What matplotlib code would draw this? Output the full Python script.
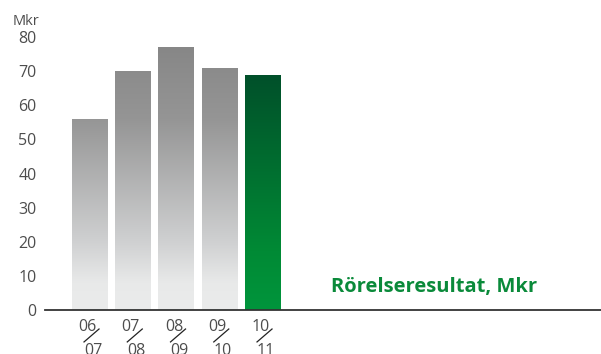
import numpy as np
import matplotlib
matplotlib.use("Agg")
import matplotlib.pyplot as plt
from matplotlib.colors import LinearSegmentedColormap

plt.rcParams['font.family'] = ['Open Sans', 'DejaVu Sans']

# data
periods_top = ['06', '07', '08', '09', '10']
periods_bottom = ['07', '08', '09', '10', '11']
values = [56, 70, 77, 71, 69]
yticks = [0, 10, 20, 30, 40, 50, 60, 70, 80]
label = 'Rörelseresultat, Mkr'
unit = 'Mkr'

gray_cmap = LinearSegmentedColormap.from_list(
    'gray', [(0, '#ebecec'), (0.1, '#e8e9e9'), (0.25, '#cfd0d1'),
             (0.7, '#959595'), (1.0, '#858585')])
green_cmap = LinearSegmentedColormap.from_list(
    'green', [(0, '#00953c'), (0.25, '#008a35'), (1.0, '#00502a')])

fig = plt.figure(figsize=(6.01, 3.54), dpi=100)
ax = fig.add_axes([45 / 601, 44 / 354, 556 / 601, 273 / 354])

x = np.arange(len(values))
width = 0.81
bars = ax.bar(x, values, width=width, color='none', edgecolor='none')

# gradient fill clipped to each bar (gray shares one scale, green is its own)
for i, b in enumerate(bars):
    last = i == len(bars) - 1
    cmap = green_cmap if last else gray_cmap
    x0 = b.get_x()
    top = b.get_height() if last else 80
    g = np.linspace(0, 1, 256).reshape(-1, 1)
    im = ax.imshow(g, cmap=cmap, aspect='auto', origin='lower',
                   extent=[x0, x0 + width, 0, top], zorder=2,
                   interpolation='bilinear')
    im.set_clip_path(b)
ax.set_xlim(-1.029, 11.826)
ax.set_ylim(0, 80)

for s in ['top', 'right', 'left']:
    ax.spines[s].set_visible(False)
ax.spines['bottom'].set_color('#333333')
ax.spines['bottom'].set_linewidth(1.3)
ax.set_yticks(yticks)
ax.set_yticklabels([str(t) for t in yticks])
ax.tick_params(axis='y', length=0, pad=6, labelsize=11.5, labelcolor='#4d4d4d')
ax.set_xticks([])

# slashed period labels
tr = ax.get_xaxis_transform()
for xi, a, b in zip(x, periods_top, periods_bottom):
    ax.text(xi - 0.046, -0.062, a, transform=tr, ha='center', va='center',
            fontsize=11.5, color='#4d4d4d', clip_on=False)
    ax.text(xi + 0.08, -0.121, b, transform=tr, ha='center', va='top',
            fontsize=11.5, color='#4d4d4d', clip_on=False)
    ax.plot([xi - 0.127, xi + 0.22], [-0.117, -0.0696], transform=tr,
            color='#222222', lw=0.9, clip_on=False)

fig.text(331 / 601, (354 - 287) / 354, label, ha='left', va='center',
         fontsize=14.5, fontweight='bold', color='#0a8a3a')
fig.text(13 / 601, (354 - 25) / 354, unit, ha='left', va='baseline',
         fontsize=10.5, color='#4d4d4d')

fig.savefig('out.png', dpi=100)
